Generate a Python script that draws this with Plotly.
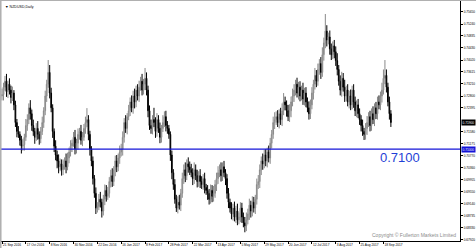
import plotly.graph_objects as go

# ---- data (prices in 1e-4 units) ----
first_open = 7280
closes_pips = [
    7285, 7310, 7330, 7295, 7320, 7300, 7275, 7290, 7250, 7190,
    7160, 7150, 7130, 7110, 7115, 7140, 7180, 7200, 7240, 7220,
    7180, 7160, 7140, 7170, 7150, 7135, 7160, 7190, 7230, 7280,
    7320, 7360, 7290, 7240, 7160, 7110, 7080, 7060, 7040, 7050,
    7030, 7045, 7060, 7040, 7070, 7090, 7110, 7120, 7140, 7100,
    7120, 7150, 7160, 7130, 7140, 7170, 7190, 7200, 7150, 7100,
    7060, 7000, 6950, 6900, 6905, 6930, 6920, 6890, 6930, 6960,
    6940, 6950, 6990, 7010, 6990, 7030, 7060, 7040, 7070, 7090,
    7100, 7140, 7190, 7170, 7210, 7230, 7260, 7240, 7280, 7260,
    7300, 7280, 7310, 7330, 7300, 7320, 7340, 7300, 7230, 7180,
    7170, 7200, 7190, 7160, 7200, 7170, 7140, 7170, 7190, 7210,
    7180, 7170, 7150, 7080, 7020, 6980, 6930, 6900, 6920, 6910,
    6950, 7000, 7030, 7010, 7050, 7040, 7030, 7020, 7000, 7030,
    7010, 6990, 7010, 6990, 6980, 7000, 6970, 6960, 6950, 6930,
    6960, 6940, 6950, 6980, 7000, 7020, 7030, 7010, 7040, 7020,
    7000, 6950, 6920, 6900, 6880, 6900, 6870, 6890, 6860, 6870,
    6900, 6870, 6850, 6840, 6860, 6880, 6910, 6890, 6920, 6900,
    6930, 6980, 6990, 7030, 7060, 7050, 7080, 7060, 7090, 7070,
    7120, 7150, 7190, 7200, 7210, 7190, 7220, 7200, 7230, 7260,
    7250, 7230, 7210, 7230, 7260, 7280, 7300, 7320, 7290, 7310,
    7280, 7300, 7270, 7290, 7260, 7240, 7220, 7250, 7290, 7320,
    7350, 7330, 7370, 7390, 7360, 7420, 7460, 7500, 7470, 7480,
    7440, 7420, 7450, 7430, 7400, 7370, 7330, 7300, 7340, 7310,
    7280, 7300, 7260, 7280, 7250, 7300, 7260, 7230, 7250, 7220,
    7200, 7180, 7160, 7150, 7170, 7190, 7210, 7180, 7220, 7200,
    7240, 7220, 7260, 7250, 7280, 7300, 7340, 7350, 7310, 7260,
    7220, 7190,
]
upper_wick_pips = [
    20, 15, 18, 25, 12, 20, 15, 22, 10, 14, 12, 18, 10, 15, 20, 12, 22, 18, 15, 26,
    14, 20, 12, 18, 25, 10, 15, 20, 12, 18, 15, 42, 25, 18, 12, 10, 20, 15, 22, 18,
    15, 20, 12, 25, 18, 15, 20, 12, 18, 25, 15, 20, 12, 22, 18, 15, 20, 39, 15, 12,
    10, 15, 12, 20, 15, 18, 25, 12, 15, 20, 18, 22, 15, 20, 25, 12, 18, 20, 15, 22,
    18, 20, 15, 25, 12, 20, 15, 22, 18, 25, 15, 20, 22, 15, 25, 18, 35, 20, 15, 18,
    20, 15, 40, 18, 22, 15, 20, 12, 25, 18, 20, 15, 12, 10, 15, 12, 18, 15, 20, 25,
    15, 20, 18, 25, 15, 22, 18, 20, 15, 25, 18, 20, 15, 22, 18, 15, 20, 12, 18, 15,
    20, 18, 25, 15, 20, 22, 18, 25, 15, 20, 12, 15, 18, 12, 20, 15, 22, 18, 25, 15,
    20, 18, 15, 20, 25, 18, 22, 15, 20, 18, 15, 20, 22, 18, 15, 25, 18, 20, 15, 22,
    18, 15, 20, 25, 18, 22, 15, 20, 25, 30, 18, 15, 20, 22, 18, 25, 20, 15, 22, 18,
    20, 15, 25, 18, 20, 15, 22, 18, 20, 15, 25, 18, 20, 15, 22, 25, 18, 58, 20, 15,
    22, 18, 15, 20, 18, 25, 15, 20, 22, 18, 25, 15, 20, 18, 22, 15, 20, 18, 15, 20,
    18, 15, 20, 12, 18, 22, 15, 20, 18, 25, 15, 20, 18, 22, 15, 25, 30, 52, 20, 15,
    18, 12,
]
lower_wick_pips = [
    15, 20, 12, 18, 22, 15, 20, 12, 18, 15, 20, 12, 18, 25, 15, 20, 12, 18, 15, 20,
    18, 15, 22, 12, 18, 20, 15, 12, 18, 15, 20, 12, 18, 15, 22, 20, 18, 25, 22, 15,
    20, 18, 15, 22, 12, 18, 15, 20, 12, 18, 15, 22, 18, 15, 20, 12, 18, 15, 20, 22,
    18, 20, 15, 20, 15, 12, 18, 22, 15, 20, 18, 12, 15, 20, 18, 15, 22, 18, 15, 20,
    15, 22, 18, 15, 20, 12, 18, 15, 20, 22, 18, 15, 20, 12, 18, 15, 20, 18, 22, 15,
    18, 20, 15, 22, 18, 15, 20, 18, 12, 15, 20, 18, 15, 20, 22, 18, 15, 13, 18, 15,
    20, 15, 18, 22, 15, 20, 18, 15, 22, 18, 15, 20, 18, 22, 15, 18, 20, 15, 22, 18,
    15, 20, 18, 15, 22, 18, 15, 20, 18, 15, 22, 18, 20, 15, 18, 22, 15, 20, 18, 15,
    18, 20, 15, 22, 18, 15, 20, 22, 18, 15, 20, 18, 15, 22, 18, 20, 15, 18, 22, 15,
    20, 18, 15, 22, 18, 15, 20, 18, 22, 15, 18, 20, 15, 18, 22, 15, 20, 18, 15, 22,
    18, 15, 20, 22, 18, 15, 20, 18, 15, 22, 18, 20, 15, 18, 22, 15, 20, 18, 22, 15,
    20, 18, 15, 22, 18, 20, 15, 18, 22, 15, 20, 18, 15, 22, 18, 15, 20, 18, 22, 15,
    18, 20, 15, 19, 18, 22, 15, 20, 18, 15, 22, 18, 20, 15, 18, 22, 15, 20, 18, 15,
    20, 15,
]
date_idx = [0, 16, 32, 48, 64, 80, 96, 112, 128, 144, 160, 176, 192, 208, 224, 240, 256]
date_labels = ["21 Sep 2016", "17 Oct 2016", "8 Nov 2016", "30 Nov 2016", "22 Dec 2016",
               "16 Jan 2017", "8 Feb 2017", "28 Feb 2017", "22 Mar 2017", "13 Apr 2017",
               "5 May 2017", "29 May 2017", "20 Jun 2017", "12 Jul 2017", "3 Aug 2017",
               "25 Aug 2017", "18 Sep 2017"]
price_ticks = [0.75650, 0.75240, 0.74835, 0.74430, 0.74020, 0.73615, 0.73210, 0.72800,
               0.72395, 0.71580, 0.71175, 0.70770, 0.70360, 0.69955, 0.69550,
               0.69140, 0.68735, 0.68330, 0.67920]
level = 0.7100
title_text = "\u25BC NZDUSD,Daily"
copyright_text = "Copyright \u00A9 Fullerton Markets Limited"

# ---- build OHLC ----
closes = [c / 1e4 for c in closes_pips]
opens = [first_open / 1e4] + closes[:-1]
highs = [max(o, c) + u / 1e4 for o, c, u in zip(opens, closes, upper_wick_pips)]
lows = [min(o, c) - l / 1e4 for o, c, l in zip(opens, closes, lower_wick_pips)]
xs = list(range(len(closes)))

W, H = 476, 248
ml, mr, mt, mb = 1, 16, 1, 7
px_per_bar = 1.49
x0_px = 2
x_lo = (ml - x0_px) / px_per_bar
x_hi = (W - mr - x0_px) / px_per_bar
p_per_px = 0.000339
y_hi = 0.7558 + (14 - mt) * p_per_px
y_lo = 0.7558 - (H - mb - 14) * p_per_px

FONT = "Liberation Sans"
AX = 3.2

fig = go.Figure()
fig.add_trace(go.Candlestick(
    x=xs, open=opens, high=highs, low=lows, close=closes,
    increasing=dict(line=dict(color="#8a8a8a", width=1), fillcolor="#d4d4d4"),
    decreasing=dict(line=dict(color="#000000", width=1), fillcolor="#1a1a1a"),
    whiskerwidth=0, showlegend=False, hoverinfo="skip",
))

fig.add_shape(type="line", xref="paper", yref="y", x0=0, x1=1, y0=level, y1=level,
              line=dict(color="#1414d8", width=1.2))
fig.add_shape(type="line", xref="paper", yref="paper", x0=0, x1=1.04, y0=1.004, y1=1.004,
              line=dict(color="#b0b0b0", width=2))
fig.add_shape(type="line", xref="paper", yref="paper", x0=-0.001, x1=-0.001, y0=-0.05, y1=1.01,
              line=dict(color="#b0b0b0", width=2))

ann = []
ann.append(dict(text=title_text, xref="paper", yref="paper", x=0.004, y=1, xanchor="left",
                yanchor="top", yshift=-1.5, showarrow=False,
                font=dict(size=3.6, color="#000000", family=FONT)))
ann.append(dict(text=f"{level:.4f}", xref="paper", yref="paper", x=(378 - ml) / (W - ml - mr),
                y=(H - mb - 157.5) / (H - mt - mb), xanchor="left", yanchor="middle",
                showarrow=False, font=dict(size=13, color="#1f3fd6", family=FONT)))
ann.append(dict(text=copyright_text, xref="paper", yref="paper", x=(458 - ml) / (W - ml - mr),
                y=(H - mb - 234.5) / (H - mt - mb), xanchor="right", yanchor="middle",
                showarrow=False, font=dict(size=5, color="#8c8c8c", family=FONT)))
ann.append(dict(text=f"{closes[-1]:.5f}", xref="paper", yref="y", x=1, y=closes[-1],
                xanchor="left", yanchor="middle", xshift=1, showarrow=False, bgcolor="#000000",
                borderpad=0.5, font=dict(size=AX, color="#ffffff", family=FONT)))
ann.append(dict(text=f"{level:.5f}", xref="paper", yref="y", x=1, y=level,
                xanchor="left", yanchor="middle", xshift=1, showarrow=False, bgcolor="#1414d8",
                borderpad=0.5, font=dict(size=AX, color="#ffffff", family=FONT)))

fig.update_layout(
    width=W, height=H, margin=dict(l=ml, r=mr, t=mt, b=mb, autoexpand=False),
    paper_bgcolor="#ffffff", plot_bgcolor="#ffffff",
    annotations=ann, showlegend=False,
    xaxis=dict(range=[x_lo, x_hi], tickvals=date_idx, ticktext=date_labels, tickangle=0,
               automargin=False,
               ticklabelposition="outside right", ticks="outside", ticklen=2, tickwidth=1,
               tickcolor="#000000", tickfont=dict(size=AX, color="#000000", family=FONT),
               showgrid=False, zeroline=False, showline=True, linecolor="#000000", linewidth=1,
               rangeslider=dict(visible=False), fixedrange=True),
    yaxis=dict(range=[y_lo, y_hi], side="right", tickvals=price_ticks, automargin=False,
               ticktext=[f"{v:.5f}" for v in price_ticks], ticks="outside", ticklen=2,
               tickwidth=1, tickcolor="#000000",
               tickfont=dict(size=AX, color="#000000", family=FONT),
               showgrid=False, zeroline=False, showline=True, linecolor="#000000", linewidth=1,
               fixedrange=True),
)

fig.write_html("out.html")
